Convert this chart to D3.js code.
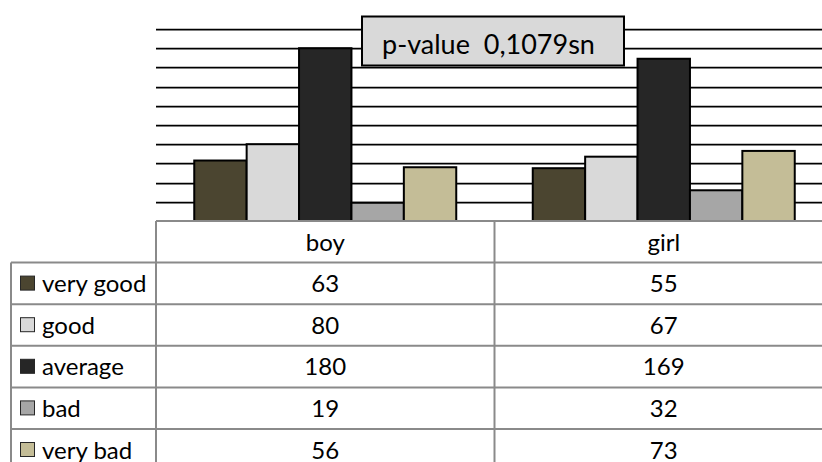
<!DOCTYPE html>
<html>
<head>
<meta charset="utf-8">
<script src="https://cdn.jsdelivr.net/npm/d3@7"></script>
<style>
  html, body { margin: 0; padding: 0; background: #fff; }
  svg { display: block; }
  text { font-family: Lato, "Open Sans", sans-serif; fill: #000; }
</style>
</head>
<body>
<svg id="chart" width="822" height="462"></svg>
<script>
// Survey answers by gender
const groups = ["boy", "girl"];
const series = ["very good", "good", "average", "bad", "very bad"];
const boyValues = [63, 80, 180, 19, 56];
const girlValues = [55, 67, 169, 32, 73];
const seriesColors = ["#4b4530", "#d9d9d9", "#262626", "#a6a6a6", "#c4bd97"];
const yTicks = [20, 40, 60, 80, 100, 120, 140, 160, 180, 200];
const noteText = "p-value  0,1079sn";

const valuesByGroup = { boy: boyValues, girl: girlValues };

const svg = d3.select("#chart");

const plotLeft = 156, plotRight = 833;
const plotTop = 29, plotBottom = 221;
const rowH = 41.6;
const legendLeft = 11;

const x0 = d3.scaleBand().domain(groups).range([plotLeft, plotRight]).paddingInner(0).paddingOuter(0);
const x1 = d3.scaleBand().domain(series).range([0, x0.bandwidth()]).paddingInner(0).paddingOuter(0.73);
const y = d3.scaleLinear().domain([0, 200]).range([plotBottom, plotTop]);
const color = d3.scaleOrdinal().domain(series).range(seriesColors);

// horizontal gridlines
svg.append("g")
  .selectAll("line")
  .data(yTicks)
  .join("line")
  .attr("x1", plotLeft)
  .attr("x2", plotRight)
  .attr("y1", d => Math.round(y(d)) + 0.5)
  .attr("y2", d => Math.round(y(d)) + 0.5)
  .attr("stroke", "#000")
  .attr("stroke-width", 1.75);

// bars
const barData = [];
groups.forEach(g => series.forEach((s, i) => barData.push({ g, s, v: valuesByGroup[g][i] })));

svg.append("g")
  .selectAll("rect")
  .data(barData)
  .join("rect")
  .attr("x", d => x0(d.g) + x1(d.s))
  .attr("y", d => y(d.v))
  .attr("width", x1.bandwidth())
  .attr("height", d => y(0) - y(d.v))
  .attr("fill", d => color(d.s))
  .attr("stroke", "#000")
  .attr("stroke-width", 2);

// p-value note
const note = svg.append("g");
note.append("rect")
  .attr("x", 362).attr("y", 16.5)
  .attr("width", 262).attr("height", 49)
  .attr("fill", "#d9d9d9")
  .attr("stroke", "#000")
  .attr("stroke-width", 2);
note.append("text")
  .attr("x", 382).attr("y", 54)
  .attr("font-size", 27)
  .style("white-space", "pre")
  .text(noteText);

// data table
const table = svg.append("g");
const gridColor = "#8a8a8a";
const rowsTop = plotBottom + rowH;
const tableBottom = rowsTop + series.length * rowH;

// horizontal rules
table.append("line")
  .attr("x1", plotLeft).attr("x2", plotRight)
  .attr("y1", plotBottom).attr("y2", plotBottom)
  .attr("stroke", gridColor).attr("stroke-width", 2);
d3.range(series.length + 1).forEach(i => {
  const yy = rowsTop + i * rowH;
  table.append("line")
    .attr("x1", legendLeft).attr("x2", plotRight)
    .attr("y1", yy).attr("y2", yy)
    .attr("stroke", gridColor).attr("stroke-width", 2);
});
// vertical rules
table.append("line")
  .attr("x1", legendLeft).attr("x2", legendLeft)
  .attr("y1", rowsTop).attr("y2", tableBottom)
  .attr("stroke", gridColor).attr("stroke-width", 2);
[plotLeft, x0("girl"), plotRight].forEach(xx => {
  table.append("line")
    .attr("x1", xx).attr("x2", xx)
    .attr("y1", plotBottom).attr("y2", tableBottom)
    .attr("stroke", gridColor).attr("stroke-width", 2);
});

// column headers
table.selectAll("text.head")
  .data(groups)
  .join("text")
  .attr("class", "head")
  .attr("x", d => x0(d) + x0.bandwidth() / 2)
  .attr("y", plotBottom + 29.5)
  .attr("text-anchor", "middle")
  .attr("font-size", 24)
  .text(d => d);

// rows: legend key, label and values
series.forEach((s, i) => {
  const top = rowsTop + i * rowH;
  table.append("rect")
    .attr("x", 20.5).attr("y", top + 13.5)
    .attr("width", 14).attr("height", 14)
    .attr("fill", color(s))
    .attr("stroke", "#262626")
    .attr("stroke-width", 1);
  table.append("text")
    .attr("x", 42).attr("y", top + 29.5)
    .attr("font-size", 24)
    .text(s);
  groups.forEach(g => {
    table.append("text")
      .attr("x", x0(g) + x0.bandwidth() / 2)
      .attr("y", top + 29.5)
      .attr("text-anchor", "middle")
      .attr("font-size", 24)
      .text(valuesByGroup[g][i]);
  });
});
</script>
</body>
</html>
